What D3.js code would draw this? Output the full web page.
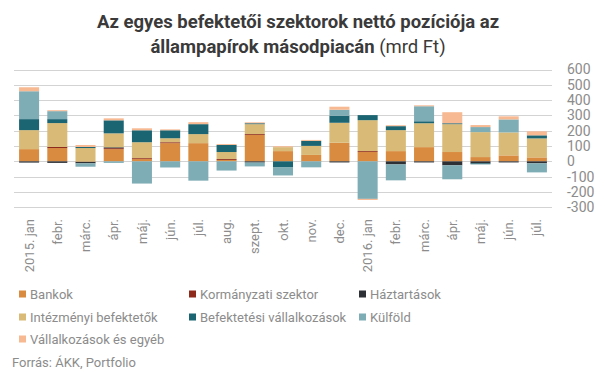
<!DOCTYPE html>
<html><head><meta charset="utf-8">
<script src="https://cdn.jsdelivr.net/npm/d3@7"></script>
<style>body{margin:0;background:#fff;}svg{display:block;font-family:Roboto,"Noto Sans",sans-serif;}</style>
</head><body><svg id="c" width="605" height="378"></svg>
<script>
const categories = ["2015. jan","febr.","márc.","ápr.","máj.","jún.","júl.","aug.","szept.","okt.","nov.","dec.","2016. jan","febr.","márc.","ápr.","máj.","jún.","júl."];
const seriesNames = ["Bankok","Kormányzati szektor","Háztartások","Intézményi befektetők","Befektetési vállalkozások","Külföld","Vállalkozások és egyéb"];
const bankok        = [80, 87, -3, 80, 15, 119, 119, 9, 172, 67, 42, 122, 61, 67, 93, 61, 28, 39, 26];
const kormanyzati   = [0, 7, 0, 6, 6, 6, 0, 6, 6, 0, 0, 0, 6, 0, 0, 0, 0, 0, 0];
const haztartasok   = [-8, -10, -10, 6, 0, 0, 0, 0, -8, 0, 0, -7, 0, -20, -7, -26, -13, -7, -13];
const intezmenyi    = [124, 156, 87, 91, 104, 26, 59, 46, 65, 26, 59, 130, 202, 137, 156, 182, 163, 150, 124];
const befektetesi   = [72, 26, 7, 85, 78, 52, 65, 46, 6, -40, 33, 46, 33, 26, 13, 6, -6, 0, 20];
const kulfold       = [182, 52, -22, -10, -145, -40, -126, -60, -25, -52, -39, 39, -245, -104, 98, -91, 33, 85, -59];
const vallalkozasok = [26, 6, 13, 13, 13, 6, 13, 6, 6, 6, 6, 20, -7, 6, 6, 72, 13, 20, 26];
const yTicks = [600,500,400,300,200,100,0,-100,-200,-300];
const colors = ["#D98B3F","#8E2A1C","#2D3136","#D9BB77","#1B6471","#7FADB5","#F7B992"];

const seriesValues = [bankok,kormanyzati,haztartasok,intezmenyi,befektetesi,kulfold,vallalkozasok];
const rows = categories.map((c,i)=>{const r={cat:c,idx:i};seriesNames.forEach((s,j)=>r[s]=seriesValues[j][i]);return r;});

const svg = d3.select("#c");
const x = d3.scaleBand().domain(d3.range(categories.length)).range([14,552]).paddingInner(0.29).paddingOuter(0.18);
const y = d3.scaleLinear().domain([-300,600]).range([207.3,69.5]);

svg.append("g").selectAll("line").data(yTicks).join("line")
  .attr("x1",14).attr("x2",552).attr("y1",d=>Math.round(y(d))+0.5).attr("y2",d=>Math.round(y(d))+0.5)
  .attr("stroke","#d3d3d3").attr("stroke-width",1);

const yAxis = d3.axisRight(y).tickValues(yTicks).tickSize(0).tickPadding(0).tickFormat(d=>d);
const ya = svg.append("g").attr("transform","translate(567,0)").call(yAxis);
ya.select(".domain").remove();
ya.selectAll("text").attr("fill","#8c8c8c").style("font-size","14px").style("font-family","Roboto");

const stack = d3.stack().keys(seriesNames).offset(d3.stackOffsetDiverging);
const stacked = stack(rows);
svg.append("g").selectAll("g").data(stacked).join("g").attr("fill",(d,i)=>colors[i])
  .selectAll("rect").data(d=>d).join("rect")
  .attr("x",d=>x(d.data.idx)).attr("width",x.bandwidth())
  .attr("y",d=>y(Math.max(d[0],d[1]))).attr("height",d=>Math.abs(y(d[0])-y(d[1])));

const xAxis = d3.axisBottom(x).tickSize(0).tickFormat(i=>categories[i]);
const xa = svg.append("g").attr("transform","translate(0,213)").call(xAxis);
xa.select(".domain").remove();
xa.selectAll("text").attr("fill","#8c8c8c").style("font-size","13px").style("font-family","Roboto")
  .attr("transform","rotate(-90)").attr("text-anchor","end").attr("x",-6).attr("y",0).attr("dy","0.35em").attr("dx",0);

const t = svg.append("text").attr("text-anchor","middle").attr("fill","#3a3a3a").style("font-family","Roboto").style("font-size","18.5px");
t.append("tspan").attr("x",298).attr("y",28).style("font-weight","bold").text("Az egyes befektetői szektorok nettó pozíciója az");
const t2 = t.append("tspan").attr("x",298).attr("y",53);
t2.append("tspan").style("font-weight","bold").text("állampapírok másodpiacán");
t2.append("tspan").style("font-weight","normal").text(" (mrd Ft)");

const legendPos = [[19,294],[189,294],[359,294],[19,317],[189,317],[359,317],[19,339]];
const lg = svg.append("g").selectAll("g").data(seriesNames).join("g")
  .attr("transform",(d,i)=>`translate(${legendPos[i][0]},${legendPos[i][1]})`);
lg.append("rect").attr("x",0).attr("y",-3.5).attr("width",7).attr("height",7).attr("fill",(d,i)=>colors[i]);
lg.append("text").attr("x",11).attr("y",0).attr("dy","0.35em").attr("fill","#8c8c8c").style("font-size","13px").text(d=>d);

svg.append("text").attr("x",12).attr("y",362).attr("dy","0.35em").attr("fill","#8c8c8c").style("font-size","13px").text("Forrás: ÁKK, Portfolio");
</script></body></html>
